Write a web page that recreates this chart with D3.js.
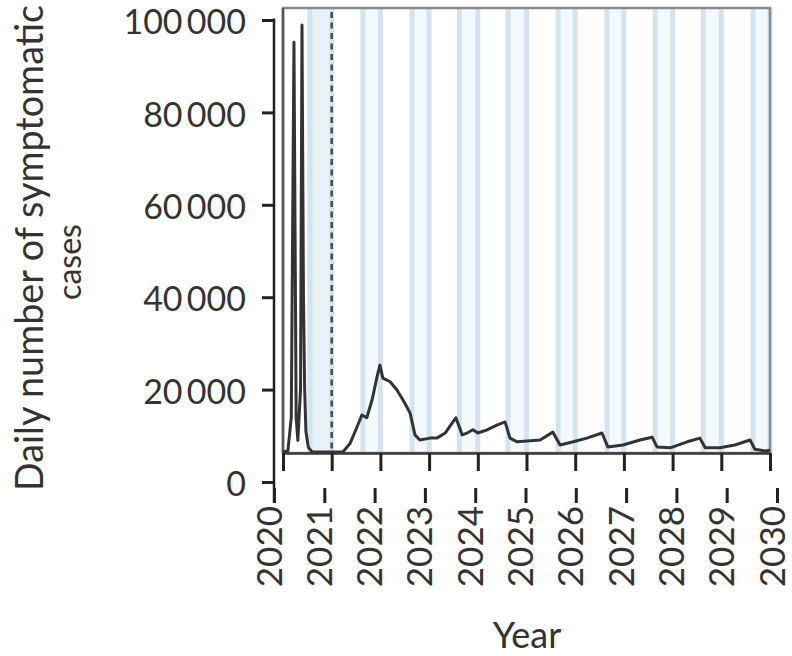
<!DOCTYPE html>
<html>
<head>
<meta charset="utf-8">
<script src="https://cdn.jsdelivr.net/npm/d3@7"></script>
<style>
  html, body { margin: 0; padding: 0; background: #fff; }
  svg { display: block; }
  text { font-family: Lato, "Open Sans", sans-serif; fill: #333; }
</style>
</head>
<body>
<svg id="chart" width="792" height="656"></svg>
<script>
// Year ticks on the time axis
const years = d3.range(2020, 2031);
// Case-count ticks on the vertical axis
const caseTicks = [0, 20000, 40000, 60000, 80000, 100000];

// Modelled daily symptomatic cases (time in fractional years)
const curveYears = [
  2020.000, 2020.100, 2020.170, 2020.225, 2020.270, 2020.305, 2020.360, 2020.390,
  2020.420, 2020.445, 2020.470, 2020.520, 2020.600,
  2021.230, 2021.380, 2021.520, 2021.620, 2021.720, 2021.830, 2021.930, 2021.990,
  2022.050, 2022.200, 2022.340, 2022.500, 2022.610, 2022.710, 2022.810,
  2023.020, 2023.160, 2023.330, 2023.490, 2023.550, 2023.680, 2023.780, 2023.900,
  2024.000, 2024.190, 2024.390, 2024.560, 2024.660, 2024.810,
  2025.010, 2025.280, 2025.540, 2025.690, 2025.960,
  2026.240, 2026.550, 2026.670, 2026.980,
  2027.330, 2027.580, 2027.680, 2027.950,
  2028.300, 2028.560, 2028.670, 2028.970,
  2029.280, 2029.590, 2029.690, 2029.900, 2030.000
];
const curveCases = [
  6500, 6700, 14000, 95200, 14000, 9000, 20000, 98900,
  40000, 20000, 11000, 7500, 6500,
  6500, 8400, 11900, 14500, 13900, 17800, 22700, 25300,
  22500, 21700, 19900, 17100, 14900, 10200, 9100,
  9500, 9500, 10600, 13000, 13900, 10200, 10600, 11300,
  10600, 11300, 12300, 13000, 9500, 8700,
  8900, 9100, 10800, 8000, 8700,
  9500, 10600, 7600, 8000,
  9100, 9700, 7600, 7400,
  8700, 9500, 7400, 7400,
  8000, 9100, 7100, 6700, 6900
];

// Shaded seasonal periods
const bandStarts = [2020.55, 2021.64, 2022.65, 2023.62, 2024.62, 2025.65, 2026.65, 2027.64, 2028.63, 2029.65];
const bandEnds   = [2021.00, 2022.00, 2023.00, 2024.00, 2025.00, 2026.00, 2027.00, 2028.00, 2029.00, 2030.00];

// Start of the intervention (dashed marker)
const markerYear = 2021;

const svg = d3.select("#chart");

// Outer axes frame
const xOuter = d3.scaleLinear().domain([2020, 2030]).range([274, 777]);
const y = d3.scaleLinear().domain([0, 100000]).range([482, 20]);
// Inner plotting panel
const xInner = d3.scaleLinear().domain([2020, 2030]).range([283, 770]);
const panelTop = 8, panelBottom = 453;

const locale = d3.formatLocale({ decimal: ".", thousands: "\u2009", grouping: [3], currency: ["", ""] });
const fmt = locale.format(",");

// Shaded bands
const bands = bandStarts.map((s, i) => ({ s, e: bandEnds[i] }));
const gBands = svg.append("g");
gBands.selectAll("rect.fill").data(bands).join("rect")
  .attr("class", "fill")
  .attr("x", d => xInner(d.s))
  .attr("width", d => xInner(d.e) - xInner(d.s))
  .attr("y", panelTop)
  .attr("height", panelBottom - panelTop)
  .attr("fill", (d, i) => i === 0 ? "#e7f3f8" : "#f3f9fc");
gBands.selectAll("line.edge").data(bands.flatMap(d => [d.s, d.e])).join("line")
  .attr("class", "edge")
  .attr("x1", d => xInner(d)).attr("x2", d => xInner(d))
  .attr("y1", panelTop).attr("y2", panelBottom)
  .attr("stroke", "#d2e5ee")
  .attr("stroke-width", 5);

// Dashed marker line
svg.append("line")
  .attr("x1", xInner(markerYear)).attr("x2", xInner(markerYear))
  .attr("y1", panelTop + 4).attr("y2", panelBottom)
  .attr("stroke", "#4a4a4a")
  .attr("stroke-width", 2.5)
  .attr("stroke-dasharray", "6,4.5");

// Panel frame
svg.append("rect")
  .attr("x", xInner(2020)).attr("y", panelTop)
  .attr("width", xInner(2030) - xInner(2020))
  .attr("height", panelBottom - panelTop)
  .attr("fill", "none")
  .attr("stroke", "#8a8a8a")
  .attr("stroke-width", 2.5);
svg.append("line")
  .attr("x1", xInner(2020)).attr("x2", xInner(2020))
  .attr("y1", panelTop).attr("y2", panelBottom)
  .attr("stroke", "#555").attr("stroke-width", 2.5);

// Case curve
const pts = curveYears.map((t, i) => [t, curveCases[i]]);
svg.append("path")
  .datum(pts)
  .attr("fill", "none")
  .attr("stroke", "#333")
  .attr("stroke-width", 3)
  .attr("stroke-linejoin", "round")
  .attr("d", d3.line().x(d => xInner(d[0])).y(d => y(d[1])));

// Inner time axis with ticks
const gInner = svg.append("g")
  .attr("transform", `translate(0,${panelBottom})`)
  .call(d3.axisBottom(xInner).tickValues(years).tickSize(18).tickSizeOuter(0).tickFormat(""));
gInner.select(".domain").attr("stroke", "#3a3a3a").attr("stroke-width", 2.5);
gInner.selectAll(".tick line").attr("stroke", "#222").attr("stroke-width", 3);

// Outer vertical axis
const gy = svg.append("g")
  .attr("transform", `translate(${xOuter(2020)},0)`)
  .call(d3.axisLeft(y).tickValues(caseTicks).tickSize(12).tickPadding(16).tickSizeOuter(0).tickFormat(fmt));
gy.select(".domain").remove();
gy.selectAll(".tick line").attr("stroke", "#222").attr("stroke-width", 3);
gy.selectAll(".tick text").style("font-size", "34px").attr("dy", "0.4em").attr("fill", "#333");
svg.append("line")
  .attr("x1", xOuter(2020)).attr("x2", xOuter(2020))
  .attr("y1", y(100000) - 1.5).attr("y2", 503)
  .attr("stroke", "#222").attr("stroke-width", 2.5);

// Outer time axis (ticks and rotated year labels)
const gx = svg.append("g")
  .attr("transform", "translate(0,488)")
  .call(d3.axisBottom(xOuter).tickValues(years).tickSize(15).tickSizeOuter(0).tickFormat(d3.format("d")));
gx.select(".domain").remove();
gx.selectAll(".tick line").attr("stroke", "#222").attr("stroke-width", 3);
gx.selectAll(".tick text")
  .attr("transform", "rotate(-90)")
  .attr("x", -18)
  .attr("y", 0)
  .attr("dy", "0.2em")
  .style("text-anchor", "end")
  .style("font-size", "35px")
  .attr("fill", "#333");

// Axis titles
const title1 = svg.append("text")
  .attr("transform", "translate(43,491) rotate(-90)")
  .attr("text-anchor", "start")
  .style("font-size", "39px")
  .text("Daily number of symptomatic");
// keep the long title line inside the top edge
const avail = 486;
const len = title1.node().getComputedTextLength();
if (len > avail) title1.style("font-size", (39 * avail / len).toFixed(2) + "px");

svg.append("text")
  .attr("transform", "translate(81,262) rotate(-90)")
  .attr("text-anchor", "middle")
  .style("font-size", "32px")
  .text("cases");
svg.append("text")
  .attr("x", 527).attr("y", 648)
  .attr("text-anchor", "middle")
  .style("font-size", "36px")
  .text("Year");
</script>
</body>
</html>
